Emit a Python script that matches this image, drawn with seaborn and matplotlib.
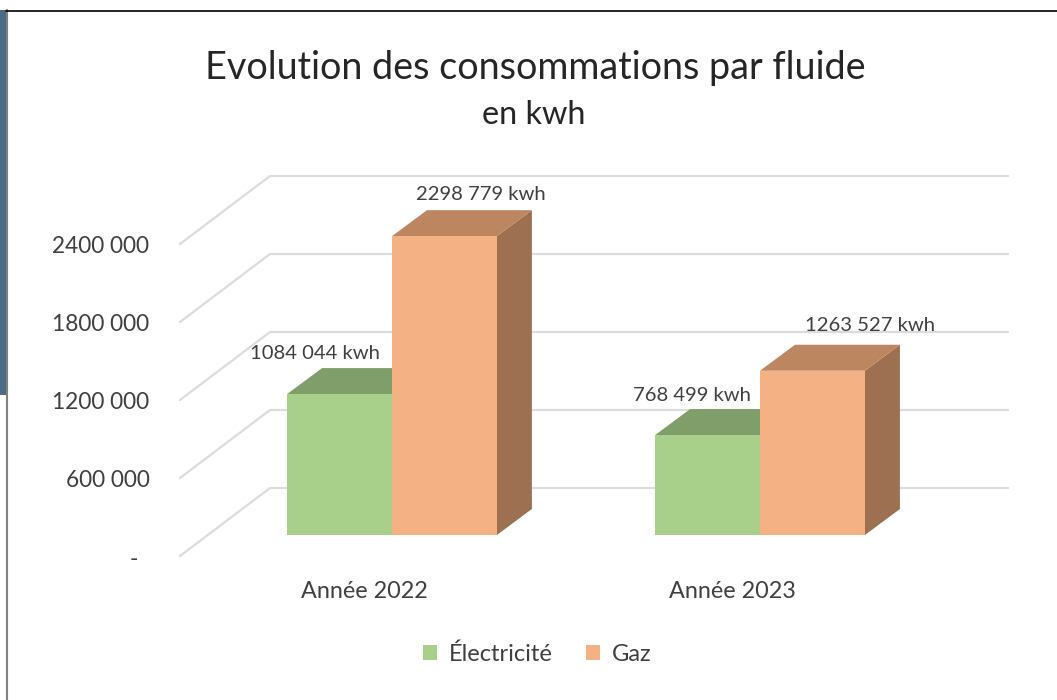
import matplotlib.pyplot as plt
from matplotlib.patches import Polygon, Rectangle
from matplotlib.transforms import ScaledTranslation
import pandas as pd
import seaborn as sns

years = ['Année 2022', 'Année 2023']
electricite = [1084044, 768499]
gaz = [2298779, 1263527]
yticks = [0, 600000, 1200000, 1800000, 2400000]
ytick_labels = ['-  ', '600 000', '1200 000', '1800 000', '2400 000']

W, H = 1057, 700
GREEN = '#A9D08A'
ORANGE = '#F4B183'
GREEN_TOP = '#7F9E69'
ORANGE_TOP = '#BC8760'
ORANGE_SIDE = '#9C7050'
GRID = '#D9DDDF'
TEXT = '#404040'

sns.set_theme(style='white')
plt.rcParams['font.family'] = ['Lato', 'DejaVu Sans']

df = pd.DataFrame({
    'annee': years * 2,
    'fluide': ['Électricité'] * 2 + ['Gaz'] * 2,
    'kwh': electricite + gaz,
})

fig = plt.figure(figsize=(W / 100, H / 100), dpi=100, facecolor='white')
# front plane of the bars: 180..972 px wide, floor at 535 px, 78 px per 600 000
ax = fig.add_axes([180 / W, 1 - 535 / H, 792 / W, 390 / H])
ax.patch.set_alpha(0)

sns.barplot(data=df, x='annee', y='kwh', hue='fluide', hue_order=['Électricité', 'Gaz'],
            palette=[GREEN, ORANGE], width=0.57, gap=0, saturation=1, linewidth=0,
            ax=ax, zorder=3)
ax.set_xlim(-0.576, 1.576)
ax.set_ylim(0, 3000000)
ax.set_xlabel('')
ax.set_ylabel('')
sns.despine(ax=ax, left=True, bottom=True)

# chart walls, shifted in pixels from the value scale
for v in yticks:
    p0 = ax.transData.transform((-0.576, v)) + (0, -21)
    p1 = p0 + (90, 68)
    wall = plt.Line2D([p0[0], p1[0], 1008], [p0[1], p1[1], p1[1]], color=GRID, lw=1.6,
                      transform=None, zorder=1, clip_on=False)
    ax.add_artist(wall)

# 3D faces built on the seaborn bars
depth_x, depth_y = 35, 26
bars = [b for b in ax.patches if b.get_height() > 0]
for b, top_col, side_col in zip(bars, [GREEN_TOP] * 2 + [ORANGE_TOP] * 2,
                                [GREEN_TOP] * 2 + [ORANGE_SIDE] * 2):
    (x0, y0) = ax.transData.transform((b.get_x(), 0))
    (x1, y1) = ax.transData.transform((b.get_x() + b.get_width(), b.get_height()))
    side = Polygon([(x1, y0), (x1 + depth_x, y0 + depth_y), (x1 + depth_x, y1 + depth_y), (x1, y1)],
                   facecolor=side_col, edgecolor='none', transform=None, zorder=2, clip_on=False)
    top = Polygon([(x0, y1), (x0 + depth_x, y1 + depth_y), (x1 + depth_x, y1 + depth_y), (x1, y1)],
                  facecolor=top_col, edgecolor='none', transform=None, zorder=2, clip_on=False)
    ax.add_artist(side)
    ax.add_artist(top)

# data labels
offsets = [(-25, 41), (-16, 40), (36, 42), (58, 45)]
for b, off in zip(bars, offsets):
    val = int(round(b.get_height()))
    txt = f'{val // 1000} {val % 1000:03d} kwh'
    ax.annotate(txt, (b.get_x() + b.get_width() / 2, b.get_height()), xytext=off,
                textcoords='offset pixels', ha='center', va='center', fontsize=14.6,
                color=TEXT, zorder=5, annotation_clip=False)

ax.set_yticks(yticks)
ax.set_yticklabels(ytick_labels, fontsize=16.3, color=TEXT)
ax.tick_params(axis='y', length=0, pad=22)
for lab in ax.get_yticklabels():
    lab.set_transform(lab.get_transform() + ScaledTranslation(0, -22 / 100, fig.dpi_scale_trans))

ax.set_xticks([0, 1])
ax.set_xticklabels(years, fontsize=16.8, color=TEXT)
ax.tick_params(axis='x', length=0, pad=33)
for lab in ax.get_xticklabels():
    lab.set_transform(lab.get_transform() + ScaledTranslation(-28 / 100, 0, fig.dpi_scale_trans))

handles, labels = ax.get_legend_handles_labels()
ax.legend(handles, labels, loc='center', bbox_to_anchor=(537 / W, 1 - 654 / H),
          bbox_transform=fig.transFigure, ncol=2, frameon=False, fontsize=17,
          handlelength=0.6, handleheight=0.6, handletextpad=0.5, columnspacing=1.4,
          labelcolor=TEXT)

fig.text(535 / W, 1 - 68 / H, 'Evolution des consommations par fluide', ha='center', va='center',
         fontsize=27.2, color='#262626')
fig.text(534 / W, 1 - 115 / H, 'en kwh', ha='center', va='center', fontsize=23.3, color='#262626')

# frame left over from the screenshot
fig.add_artist(Rectangle((0, 1 - 395 / H), 6 / W, 385 / H, transform=fig.transFigure,
                         facecolor='#4A6A85', edgecolor='none'))
fig.add_artist(plt.Line2D([6.5 / W, 6.5 / W], [0, 1 - 10 / H], color='#808080', lw=1.5,
                          transform=fig.transFigure))
fig.add_artist(plt.Line2D([6 / W, 1], [1 - 10.5 / H, 1 - 10.5 / H], color='black', lw=1.2,
                          transform=fig.transFigure))

fig.savefig('out.png', dpi=100)
